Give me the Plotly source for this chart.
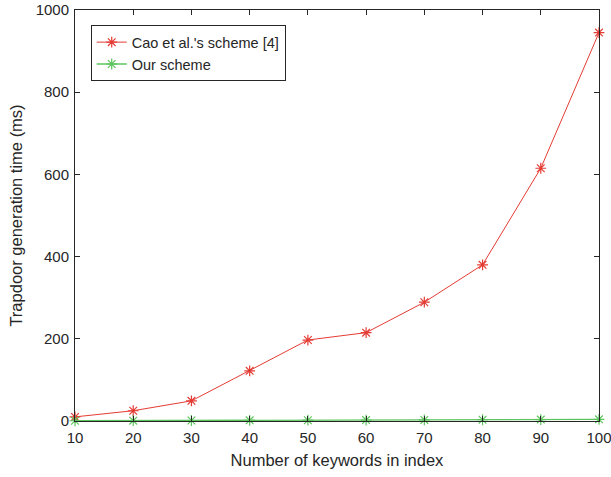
import plotly.graph_objects as go

keywords = [10, 20, 30, 40, 50, 60, 70, 80, 90, 100]
cao = [10, 25, 49, 122, 197, 215, 289, 380, 615, 945]
ours = [0.6, 0.9, 1.2, 1.6, 1.9, 2.3, 2.7, 3.1, 3.5, 4.0]
x_ticks = [10, 20, 30, 40, 50, 60, 70, 80, 90, 100]
y_ticks = [0, 200, 400, 600, 800, 1000]

RED = "#e43c34"
GREEN = "#5cc45c"
FONT = "Liberation Sans, Arial, sans-serif"

fig = go.Figure()
fig.add_trace(go.Scatter(
    x=keywords, y=cao, mode="lines+markers", name="Cao et al.'s scheme [4]",
    line=dict(color=RED, width=1),
    marker=dict(symbol="asterisk-open", size=9, line=dict(color=RED, width=1.2)),
    cliponaxis=False,
))
fig.add_trace(go.Scatter(
    x=keywords, y=ours, mode="lines+markers", name="Our scheme",
    line=dict(color=GREEN, width=1.3),
    marker=dict(symbol="asterisk-open", size=9, line=dict(color=GREEN, width=1.2)),
    cliponaxis=False,
))

axis_common = dict(
    showline=True, linecolor="#262626", linewidth=1, mirror="ticks",
    ticks="inside", ticklen=5, tickcolor="#262626", showgrid=False, zeroline=False,
    tickfont=dict(family=FONT, size=15, color="#262626"),
    ticklabeloverflow="allow", automargin=False,
)

fig.update_layout(
    width=611, height=477,
    margin=dict(l=75, r=12, t=10, b=56),
    paper_bgcolor="white", plot_bgcolor="white",
    font=dict(family=FONT, color="#262626"),
    showlegend=True,
    legend=dict(
        x=0.03, y=0.963, xanchor="left", yanchor="top",
        bgcolor="white", bordercolor="#262626", borderwidth=1,
        font=dict(size=14.5, color="#262626"),
        tracegroupgap=0, itemwidth=30,
    ),
    xaxis=dict(
        range=[10, 100], tickvals=x_ticks, ticktext=[str(v) for v in x_ticks],
        title=dict(text="Number of keywords in index", font=dict(size=16.5), standoff=9),
        ticklabelstandoff=3,
        **axis_common,
    ),
    yaxis=dict(
        range=[0, 1000], tickvals=y_ticks, ticktext=[str(v) for v in y_ticks],
        title=dict(text="Trapdoor generation time (ms)", font=dict(size=16.5), standoff=8),
        ticklabelstandoff=2,
        **axis_common,
    ),
)

fig.write_html(
    "out.html",
    config={"displayModeBar": False},
    post_script="document.body.style.margin='0';document.body.style.overflow='hidden';",
)
